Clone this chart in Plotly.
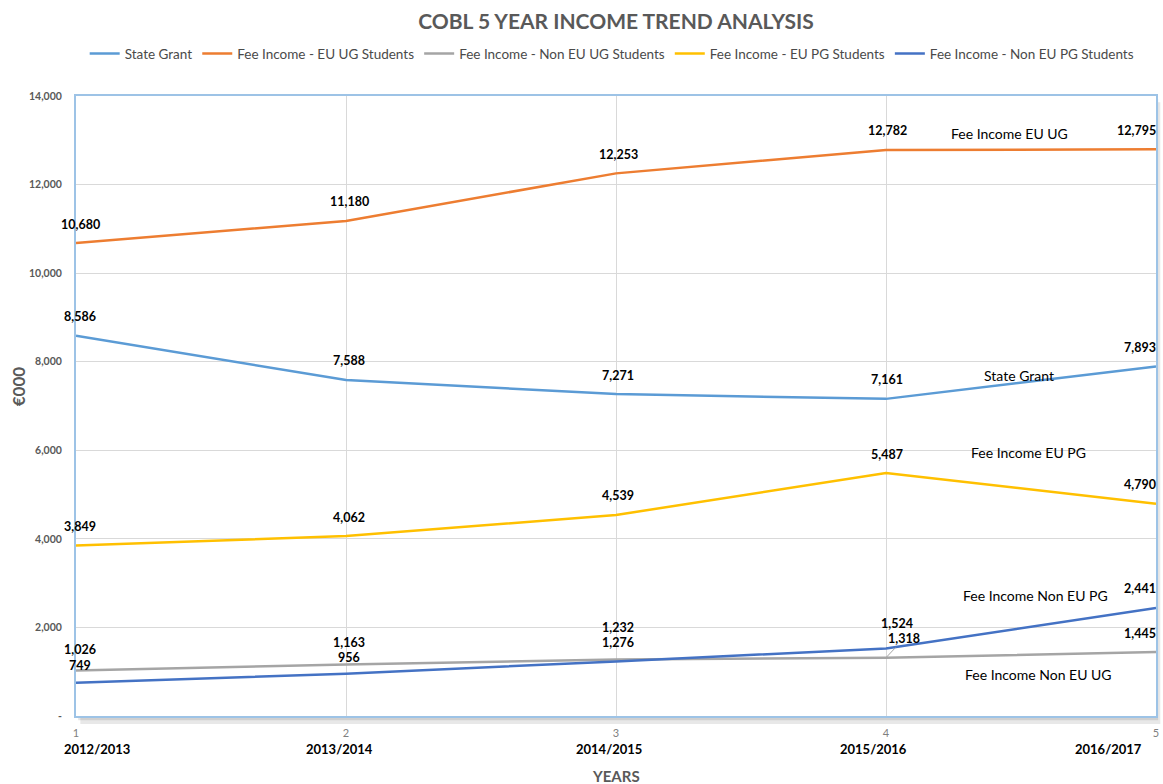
import plotly.graph_objects as go

# ---------------- data ----------------
years = ["2012/2013", "2013/2014", "2014/2015", "2015/2016", "2016/2017"]
x_index = [1, 2, 3, 4, 5]
series_names = [
    "State Grant",
    "Fee Income - EU UG Students",
    "Fee Income - Non EU UG Students",
    "Fee Income - EU PG Students",
    "Fee Income - Non EU PG Students",
]
state_grant = [8586, 7588, 7271, 7161, 7893]
fee_eu_ug = [10680, 11180, 12253, 12782, 12795]
fee_non_eu_ug = [1026, 1163, 1276, 1318, 1445]
fee_eu_pg = [3849, 4062, 4539, 5487, 4790]
fee_non_eu_pg = [749, 956, 1232, 1524, 2441]
series_values = [state_grant, fee_eu_ug, fee_non_eu_ug, fee_eu_pg, fee_non_eu_pg]
series_colors = ["#5B9BD5", "#ED7D31", "#A5A5A5", "#FFC000", "#4472C4"]

inline_names = ["Fee Income EU UG", "State Grant", "Fee Income EU PG",
                "Fee Income Non EU PG", "Fee Income Non EU UG"]
inline_x = [4.457, 4.494, 4.527, 4.553, 4.564]
inline_y = [13164, 7700, 5939, 2710, 948]

y_tick_vals = [0, 2000, 4000, 6000, 8000, 10000, 12000, 14000]
y_tick_text = ["-", "2,000", "4,000", "6,000", "8,000", "10,000", "12,000", "14,000"]

FONT = "Lato"
GRAY = "#595959"

fig = go.Figure()
for name, vals, col in zip(series_names, series_values, series_colors):
    fig.add_trace(go.Scatter(
        x=x_index, y=vals, name=name, mode="lines",
        line=dict(color=col, width=2.5), hoverinfo="x+y+name",
    ))

annotations = []
# data labels
col_xshift = [4, 3, 2, 1, 2]
for s, vals in enumerate(series_values):
    for i, v in enumerate(vals):
        xs, ys = col_xshift[i], 19
        anchor = "right" if i == 4 else "center"
        arrow = False
        ax, ay = 0, 0
        if s == 4 and i == 0:
            ys = 17
        if s == 2 and i == 0:
            ys = 21
        if s == 2 and i == 1:
            ys = 22
        if s == 4 and i == 1:
            ys = 16
        if s == 4 and i == 2:
            ys = 34
        if s == 2 and i == 2:
            ys = 17
        if s == 4 and i == 3:
            xs, ys = 11, 25
        if s == 2 and i == 3:
            arrow = True
            ax, ay = 18, -19
        ann = dict(
            x=x_index[i], y=v, xref="x", yref="y",
            text=f"<b>{v:,}</b>", font=dict(family=FONT, size=12.5, color="#000000"),
            xanchor=anchor, yanchor="middle",
        )
        if arrow:
            ann.update(showarrow=True, arrowhead=0, arrowwidth=1,
                       arrowcolor="#A5A5A5", ax=ax, ay=ay, standoff=0)
        else:
            ann.update(showarrow=False, xshift=xs, yshift=ys)
        annotations.append(ann)

# inline series names
for t, xv, yv in zip(inline_names, inline_x, inline_y):
    annotations.append(dict(
        x=xv, y=yv, xref="x", yref="y", text=t, showarrow=False,
        font=dict(family=FONT, size=14, color="#000000"),
        xanchor="center", yanchor="middle",
    ))

# year labels under axis
year_xshift = [21, -7, -7, -13, -48]
for xv, t, xs in zip(x_index, years, year_xshift):
    annotations.append(dict(
        x=xv, y=-0.053, xref="x", yref="paper", text=f"<b>{t}</b>",
        showarrow=False, xshift=xs,
        font=dict(family=FONT, size=13, color="#000000"),
        xanchor="center", yanchor="middle",
    ))

# axis titles
annotations.append(dict(
    x=0.5, y=-0.097, xref="paper", yref="paper", text="<b>YEARS</b>",
    showarrow=False, font=dict(family=FONT, size=15, color=GRAY),
    xanchor="center", yanchor="middle",
))
annotations.append(dict(
    x=-0.0536, y=0.532, xref="paper", yref="paper", text="<b>€000</b>",
    showarrow=False, textangle=-90, font=dict(family=FONT, size=17, color=GRAY),
    xanchor="center", yanchor="middle",
))

shapes = [
    dict(type="rect", xref="paper", yref="paper", x0=0.004, x1=1.004,
         y0=-0.013, y1=0.99, fillcolor="rgba(0,0,0,0.09)", line=dict(width=0),
         layer="below"),
    dict(type="rect", xref="paper", yref="paper", x0=0.002, x1=1.002,
         y0=-0.007, y1=0.995, fillcolor="rgba(0,0,0,0.10)", line=dict(width=0),
         layer="below"),
    dict(type="rect", xref="paper", yref="paper", x0=0, x1=1,
         y0=0, y1=1, fillcolor="white", line=dict(width=0),
         layer="below"),
]

fig.update_layout(
    width=1163, height=784, autosize=False,
    margin=dict(l=76, r=4, t=96, b=68),
    paper_bgcolor="white", plot_bgcolor="rgba(0,0,0,0)",
    title=dict(text="<b>COBL 5 YEAR INCOME TREND ANALYSIS</b>",
               font=dict(family=FONT, size=21, color=GRAY),
               x=0.5, xref="paper", xanchor="center",
               y=0.972, yref="container", yanchor="middle"),
    legend=dict(orientation="h", x=0.496, xanchor="center", y=1.068,
                yanchor="middle", font=dict(family=FONT, size=13.5, color="#4a4a4a"),
                itemwidth=30, bgcolor="rgba(0,0,0,0)"),
    annotations=annotations,
    shapes=shapes,
    showlegend=True,
)
fig.update_xaxes(
    range=[1, 5], tickvals=x_index, ticktext=[str(v) for v in x_index],
    tickfont=dict(family=FONT, size=11, color="#7F7F7F"),
    showgrid=True, gridcolor="#D9D9D9", gridwidth=1,
    showline=True, mirror=True, linecolor="#9DC3E6", linewidth=2,
    zeroline=False, ticklabelstandoff=6, fixedrange=True,
)
fig.update_yaxes(
    range=[0, 14000], tickvals=y_tick_vals, ticktext=y_tick_text,
    tickfont=dict(family=FONT, size=10.5, color=GRAY, weight="bold"),
    showgrid=True, gridcolor="#D9D9D9", gridwidth=1,
    showline=True, mirror=True, linecolor="#9DC3E6", linewidth=2,
    zeroline=False, ticklabelstandoff=10, fixedrange=True,
)

fig.write_html("out.html", config={"displayModeBar": False},
               post_script="document.body.style.margin='0';")
